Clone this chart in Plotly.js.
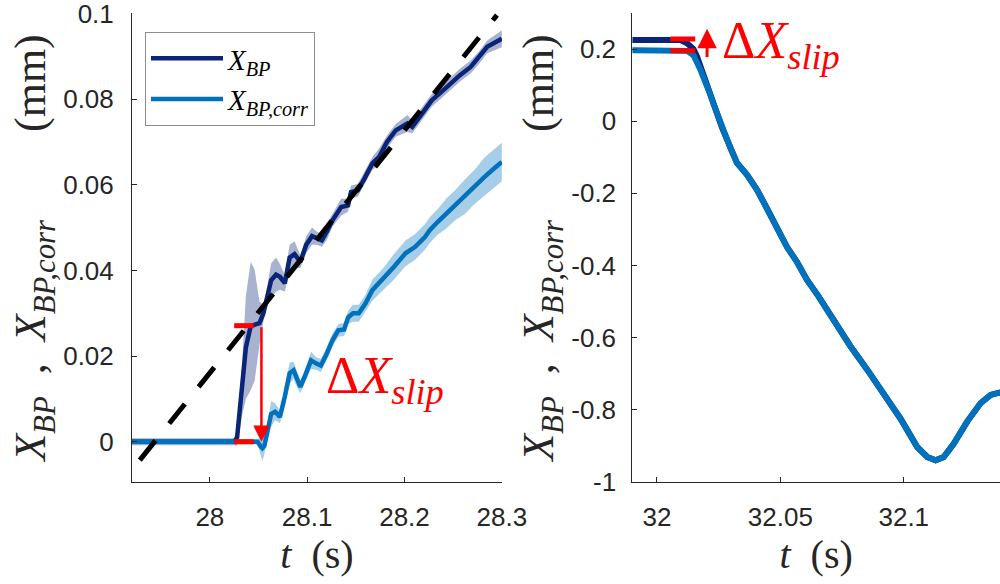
<!DOCTYPE html>
<html>
<head>
<meta charset="utf-8">
<script src="https://cdn.plot.ly/plotly-3.0.1.min.js"></script>
<style>html,body{margin:0;padding:0;background:#fff;}#chart{width:1000px;height:584px;}</style>
</head>
<body>
<div id="chart"></div>
<script>
// ---------- Left panel data (slip event) ----------
var t_bp = [27.92, 27.95, 27.98, 28.00, 28.025, 28.028, 28.033, 28.037, 28.042, 28.046, 28.051, 28.055, 28.058, 28.063, 28.068, 28.072, 28.077, 28.082, 28.087, 28.093, 28.099, 28.105, 28.110, 28.115, 28.120, 28.126, 28.135, 28.142, 28.145, 28.152, 28.159, 28.167, 28.174, 28.182, 28.191, 28.203, 28.208, 28.218, 28.228, 28.242, 28.249, 28.257, 28.268, 28.277, 28.285, 28.300];
var x_bp = [0, 0, 0, 0, 0, 0.001, 0.012, 0.022, 0.027, 0.0272, 0.0277, 0.030, 0.033, 0.0377, 0.039, 0.0385, 0.037, 0.043, 0.0438, 0.042, 0.046, 0.048, 0.0475, 0.047, 0.049, 0.0517, 0.0548, 0.0552, 0.0583, 0.0587, 0.0615, 0.065, 0.0665, 0.070, 0.0727, 0.0743, 0.0735, 0.0766, 0.0797, 0.0825, 0.084, 0.0856, 0.0875, 0.0898, 0.0922, 0.0941];
var x_bp_sd = [0.0008, 0.0008, 0.0008, 0.0008, 0.0008, 0.002, 0.006, 0.012, 0.015, 0.013, 0.005, 0.002, 0.002, 0.004, 0.004, 0.003, 0.002, 0.003, 0.003, 0.0015, 0.002, 0.002, 0.0015, 0.0015, 0.002, 0.0015, 0.002, 0.0015, 0.0015, 0.0015, 0.0015, 0.0015, 0.002, 0.0015, 0.0015, 0.002, 0.0015, 0.0015, 0.0015, 0.0015, 0.0015, 0.0015, 0.0015, 0.0015, 0.0015, 0.002];

var t_corr = [27.92, 27.95, 27.98, 28.00, 28.02, 28.049, 28.052, 28.054, 28.056, 28.058, 28.063, 28.067, 28.072, 28.077, 28.082, 28.086, 28.089, 28.093, 28.098, 28.104, 28.109, 28.114, 28.120, 28.126, 28.132, 28.138, 28.142, 28.147, 28.153, 28.160, 28.167, 28.177, 28.189, 28.201, 28.211, 28.221, 28.226, 28.234, 28.243, 28.252, 28.262, 28.272, 28.282, 28.292, 28.300];
var x_corr = [0, 0, 0, 0, 0, 0, -0.001, -0.0015, -0.001, 0.001, 0.0065, 0.007, 0.0058, 0.0105, 0.016, 0.0167, 0.015, 0.0128, 0.0155, 0.019, 0.0183, 0.0178, 0.0205, 0.0237, 0.026, 0.0262, 0.029, 0.030, 0.030, 0.0323, 0.0354, 0.0377, 0.0408, 0.044, 0.0455, 0.0478, 0.0494, 0.0513, 0.0533, 0.0552, 0.0572, 0.0595, 0.0618, 0.0638, 0.0653];
var x_corr_sd = [0.0006, 0.0006, 0.0006, 0.0006, 0.0006, 0.0006, 0.002, 0.003, 0.002, 0.0015, 0.003, 0.002, 0.0015, 0.002, 0.0025, 0.002, 0.002, 0.0015, 0.0015, 0.002, 0.0015, 0.0015, 0.0015, 0.0015, 0.0015, 0.0015, 0.0015, 0.002, 0.002, 0.002, 0.0025, 0.0025, 0.003, 0.003, 0.003, 0.003, 0.003, 0.003, 0.0035, 0.0035, 0.004, 0.004, 0.0045, 0.0045, 0.0045];

// linear fit (dashed)
var fit_t = [27.928, 28.295];
var fit_x = [-0.0043, 0.0996];

// slip markers, left panel
var slip_t_left = [28.025, 28.045];
var slip_levels_left = [0.0271, 0];
var slip_arrow_left = {t: 28.053, from: 0.0271, to: 0};

// ---------- Right panel data ----------
var t_r = [31.99, 32.000, 32.005, 32.0095, 32.0122, 32.0148, 32.0162, 32.0176, 32.0189, 32.0203, 32.0216, 32.0230, 32.0264, 32.0298, 32.0324, 32.0365, 32.0406, 32.0446, 32.0487, 32.0527, 32.0568, 32.0608, 32.0654, 32.0716, 32.0784, 32.0852, 32.0919, 32.0987, 32.1054, 32.1095, 32.1129, 32.1162, 32.1203, 32.1257, 32.1311, 32.1352, 32.1392];
var x_bp_r = [0.225, 0.225, 0.225, 0.225, 0.216, 0.200, 0.180, 0.155, 0.130, 0.107, 0.078, 0.048, -0.019, -0.075, -0.116, -0.149, -0.191, -0.242, -0.298, -0.349, -0.391, -0.44, -0.485, -0.555, -0.624, -0.689, -0.759, -0.825, -0.903, -0.931, -0.940, -0.931, -0.894, -0.833, -0.782, -0.759, -0.752];
var x_corr_r = [0.197, 0.197, 0.197, 0.197, 0.195, 0.183, 0.165, 0.143, 0.120, 0.100, 0.074, 0.046, -0.019, -0.075, -0.116, -0.149, -0.191, -0.242, -0.298, -0.349, -0.391, -0.44, -0.485, -0.555, -0.624, -0.689, -0.759, -0.825, -0.903, -0.931, -0.940, -0.931, -0.894, -0.833, -0.782, -0.759, -0.752];
var sd_r = 0.007;

var slip_t_right = [32.0054, 32.0155];
var slip_levels_right = [0.228, 0.195];
var slip_arrow_right = {t: 32.0203, from: 0.174, to: 0.256};

// tick labels
var yticks_left = [0, 0.02, 0.04, 0.06, 0.08, 0.1];
var yticktext_left = ["0", "0.02", "0.04", "0.06", "0.08", "0.1"];
var xticks_left = [28, 28.1, 28.2, 28.3];
var xticktext_left = ["28", "28.1", "28.2", "28.3"];
var yticks_right = [-1, -0.8, -0.6, -0.4, -0.2, 0, 0.2];
var yticktext_right = ["-1", "-0.8", "-0.6", "-0.4", "-0.2", "0", "0.2"];
var xticks_right = [32, 32.05, 32.1];
var xticktext_right = ["32", "32.05", "32.1"];

// ---------- styling ----------
var NAVY = "#0a2478";
var BLUE = "#0072BD";
var NAVY_BAND = "rgba(10,36,120,0.35)";
var BLUE_BAND = "rgba(0,114,189,0.35)";
var RED = "#ff0000";
var AXC = "#262626";
var SERIF = "Liberation Serif, DejaVu Serif, serif";
var SANS = "Liberation Sans, Arial, sans-serif";
var EN = "\u2002", THIN = "\u2009";

function add(a, b, s) { return a.map(function (v, i) { return v + s * (Array.isArray(b) ? b[i] : b); }); }

function band(t, m, sd, color, xa, ya) {
  return [
    {x: t, y: add(m, sd, 1), xaxis: xa, yaxis: ya, mode: "lines", line: {width: 0, color: color}, showlegend: false, hoverinfo: "skip"},
    {x: t, y: add(m, sd, -1), xaxis: xa, yaxis: ya, mode: "lines", line: {width: 0, color: color}, fill: "tonexty", fillcolor: color, showlegend: false, hoverinfo: "skip"}
  ];
}

var lblBP = "<i>X</i><sub><i>BP</i></sub>";
var lblCorr = "<i>X</i><sub><i>BP,corr</i></sub>";

var traces = [];
traces = traces.concat(band(t_bp, x_bp, x_bp_sd, NAVY_BAND, "x", "y"));
traces = traces.concat(band(t_corr, x_corr, x_corr_sd, BLUE_BAND, "x", "y"));
traces.push({x: t_bp, y: x_bp, xaxis: "x", yaxis: "y", mode: "lines", name: lblBP, line: {color: NAVY, width: 4.5}});
traces.push({x: t_corr, y: x_corr, xaxis: "x", yaxis: "y", mode: "lines", name: lblCorr, line: {color: BLUE, width: 4.5}});
traces.push({x: fit_t, y: fit_x, xaxis: "x", yaxis: "y", mode: "lines", showlegend: false, line: {color: "#000", width: 5, dash: "25px,22px"}});
slip_levels_left.forEach(function (lv) {
  traces.push({x: slip_t_left, y: [lv, lv], xaxis: "x", yaxis: "y", mode: "lines", showlegend: false, line: {color: RED, width: 5}});
});

traces = traces.concat(band(t_r, x_bp_r, sd_r, NAVY_BAND, "x2", "y2"));
traces = traces.concat(band(t_r, x_corr_r, sd_r, BLUE_BAND, "x2", "y2"));
traces.push({x: t_r, y: x_bp_r, xaxis: "x2", yaxis: "y2", mode: "lines", showlegend: false, line: {color: NAVY, width: 6}});
traces.push({x: t_r, y: x_corr_r, xaxis: "x2", yaxis: "y2", mode: "lines", showlegend: false, line: {color: BLUE, width: 6}});
slip_levels_right.forEach(function (lv) {
  traces.push({x: slip_t_right, y: [lv, lv], xaxis: "x2", yaxis: "y2", mode: "lines", showlegend: false, line: {color: RED, width: 5}});
});

function axisBase(extra) {
  var a = {
    showline: true, linecolor: AXC, linewidth: 1, ticks: "inside", ticklen: 5, tickcolor: AXC, tickwidth: 1,
    showgrid: false, zeroline: false, automargin: false, ticklabeloverflow: "allow",
    tickfont: {family: SANS, size: 26, color: AXC}
  };
  for (var k in extra) a[k] = extra[k];
  return a;
}

var ytitle = {text: EN + THIN + "<i>X</i><sub><i>BP</i></sub>" + EN + "," + EN + "<i>X</i><sub><i>BP,corr</i></sub>" + EN + EN + EN + EN + "(mm)",
              font: {family: SERIF, size: 44, color: AXC}, standoff: 3};
var xtitle = {text: "<i>t</i>" + EN + "(s)", font: {family: SERIF, size: 40, color: AXC}, standoff: 2};

var layout = {
  width: 1000, height: 584,
  margin: {l: 0, r: 0, t: 0, b: 0},
  paper_bgcolor: "#fff", plot_bgcolor: "#fff",
  showlegend: true,
  legend: {
    x: 0.145, y: 1 - 32 / 584, xanchor: "left", yanchor: "top", traceorder: "normal",
    bgcolor: "#fff", bordercolor: "#8c8c8c", borderwidth: 1,
    font: {family: SERIF, size: 29, color: "#000"}, itemwidth: 72
  },
  xaxis: axisBase({domain: [0.132, 0.502], anchor: "y", range: [27.92, 28.3002], tickvals: xticks_left, ticktext: xticktext_left, ticklabelstandoff: 12, title: xtitle}),
  yaxis: axisBase({domain: [(584 - 482) / 584, (584 - 13) / 584], anchor: "x", range: [-0.0094, 0.1001], tickvals: yticks_left, ticktext: yticktext_left, ticklabelstandoff: 12, title: ytitle}),
  xaxis2: axisBase({domain: [0.6323, 1.0], anchor: "y2", range: [31.99, 32.139], tickvals: xticks_right, ticktext: xticktext_right, ticklabelstandoff: 12, title: xtitle}),
  yaxis2: axisBase({domain: [(584 - 482) / 584, (584 - 13) / 584], anchor: "x2", range: [-1.0005, 0.3], tickvals: yticks_right, ticktext: yticktext_right, ticklabelstandoff: 10, title: ytitle}),
  annotations: [
    {xref: "x", yref: "y", x: slip_arrow_left.t, y: slip_arrow_left.to, axref: "x", ayref: "y", ax: slip_arrow_left.t, ay: slip_arrow_left.from,
     showarrow: true, arrowhead: 2, arrowsize: 1.3, arrowwidth: 2.5, arrowcolor: RED, standoff: 0, text: ""},
    {xref: "x2", yref: "y2", x: slip_arrow_right.t, y: slip_arrow_right.to, axref: "x2", ayref: "y2", ax: slip_arrow_right.t, ay: slip_arrow_right.from,
     showarrow: true, arrowhead: 2, arrowsize: 1.3, arrowwidth: 3, arrowcolor: RED, standoff: 0, text: ""},
    {xref: "x", yref: "y", x: 28.117, y: 0.0145, xanchor: "left", yanchor: "middle", showarrow: false,
     text: "Δ<i>X</i><sub><i>slip</i></sub>", font: {family: SERIF, size: 52, color: RED}},
    {xref: "x2", yref: "y2", x: 32.0255, y: 0.213, xanchor: "left", yanchor: "middle", showarrow: false,
     text: "Δ<i>X</i><sub><i>slip</i></sub>", font: {family: SERIF, size: 52, color: RED}}
  ]
};

Plotly.newPlot("chart", traces, layout, {staticPlot: true, displayModeBar: false});
</script>
</body>
</html>
